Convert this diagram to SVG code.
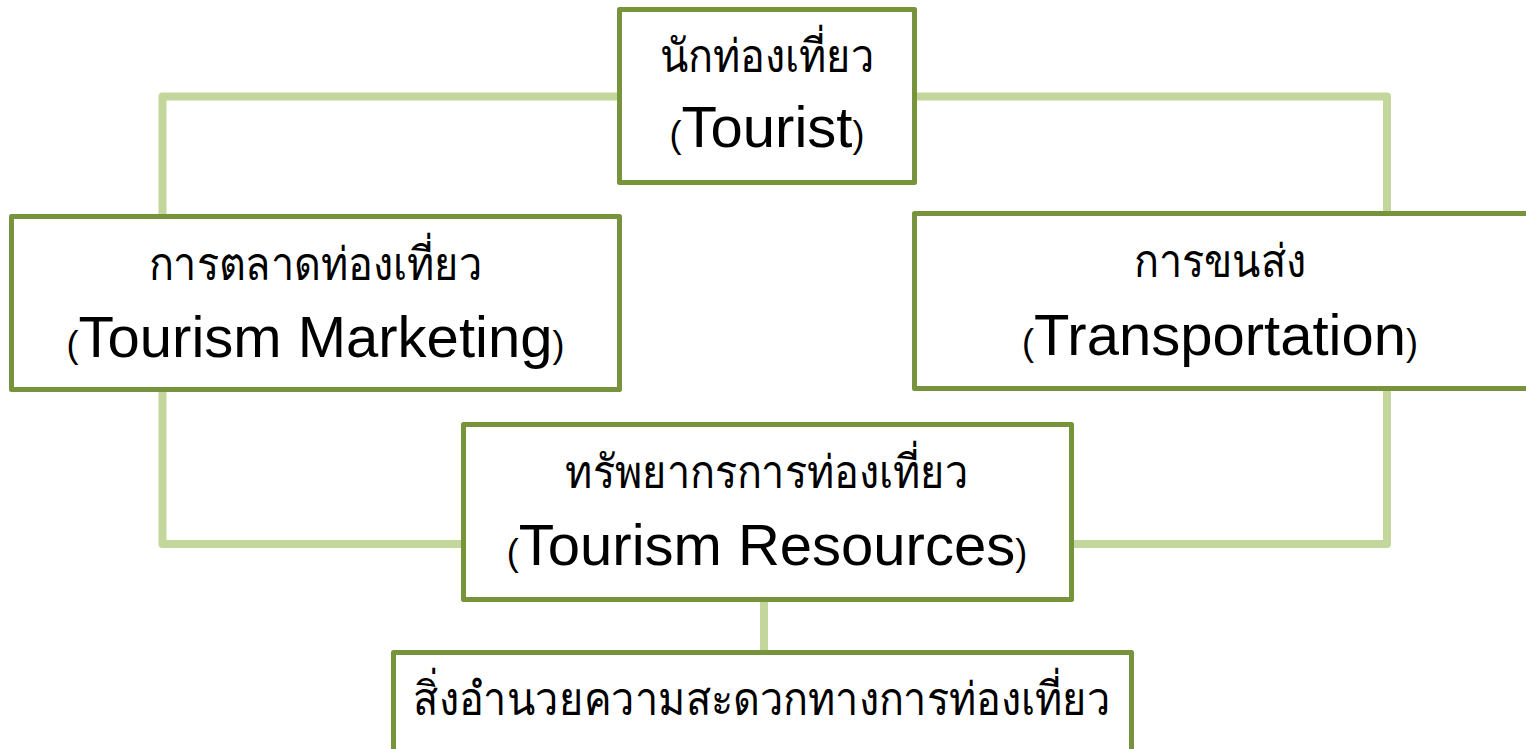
<svg xmlns="http://www.w3.org/2000/svg" width="1526" height="749" viewBox="0 0 1526 749">
<style>
.box{fill:#ffffff;stroke:#77933c;stroke-width:5;stroke-linejoin:round}
.conn{fill:none;stroke:#c3d69b;stroke-width:8;stroke-linejoin:round}
.th{font-family:"Noto Sans","DejaVu Sans",sans-serif;font-size:46px;font-weight:300;fill:#000;text-anchor:middle}
.en{font-family:"Liberation Sans",Arial,sans-serif;font-size:58px;fill:#000;text-anchor:middle}
.p{font-size:36px}
</style>
<rect width="1526" height="749" fill="#ffffff"/>
<g id="connectors">
<path class="conn" d="M162.5,216 V96.5 H619"/>
<path class="conn" d="M915,96.5 H1387 V213"/>
<path class="conn" d="M162.5,390 V544 H463"/>
<path class="conn" d="M1387,389 V544 H1071"/>
<path class="conn" d="M764,600 V652"/>
</g>
<g id="tourist">
<rect class="box" x="619.5" y="9.5" width="295" height="173"/>
<text class="th" transform="translate(767,72) scale(0.9,1)">นักท่องเที่ยว</text>
<text class="en" x="767" y="147"><tspan class="p">(</tspan>Tourist<tspan class="p">)</tspan></text>
</g>
<g id="marketing">
<rect class="box" x="11.5" y="216.5" width="608" height="173"/>
<text class="th" transform="translate(315.5,280) scale(0.9,1)">การตลาดท่องเที่ยว</text>
<text class="en" x="315.5" y="357"><tspan class="p">(</tspan>Tourism Marketing<tspan class="p">)</tspan></text>
</g>
<g id="transportation">
<rect class="box" x="914.5" y="213.5" width="614" height="175"/>
<text class="th" transform="translate(1220,277) scale(0.9,1)">การขนส่ง</text>
<text class="en" x="1220" y="355"><tspan class="p">(</tspan>Transportation<tspan class="p">)</tspan></text>
</g>
<g id="resources">
<rect class="box" x="463.5" y="424.5" width="608" height="175"/>
<text class="th" transform="translate(767,488) scale(0.9,1)">ทรัพยากรการท่องเที่ยว</text>
<text class="en" x="767" y="565"><tspan class="p">(</tspan>Tourism Resources<tspan class="p">)</tspan></text>
</g>
<g id="facilities">
<rect class="box" x="393.5" y="652.5" width="738" height="120"/>
<text class="th" transform="translate(762,715) scale(0.9,1)">สิ่งอำนวยความสะดวกทางการท่องเที่ยว</text>
</g>
</svg>
